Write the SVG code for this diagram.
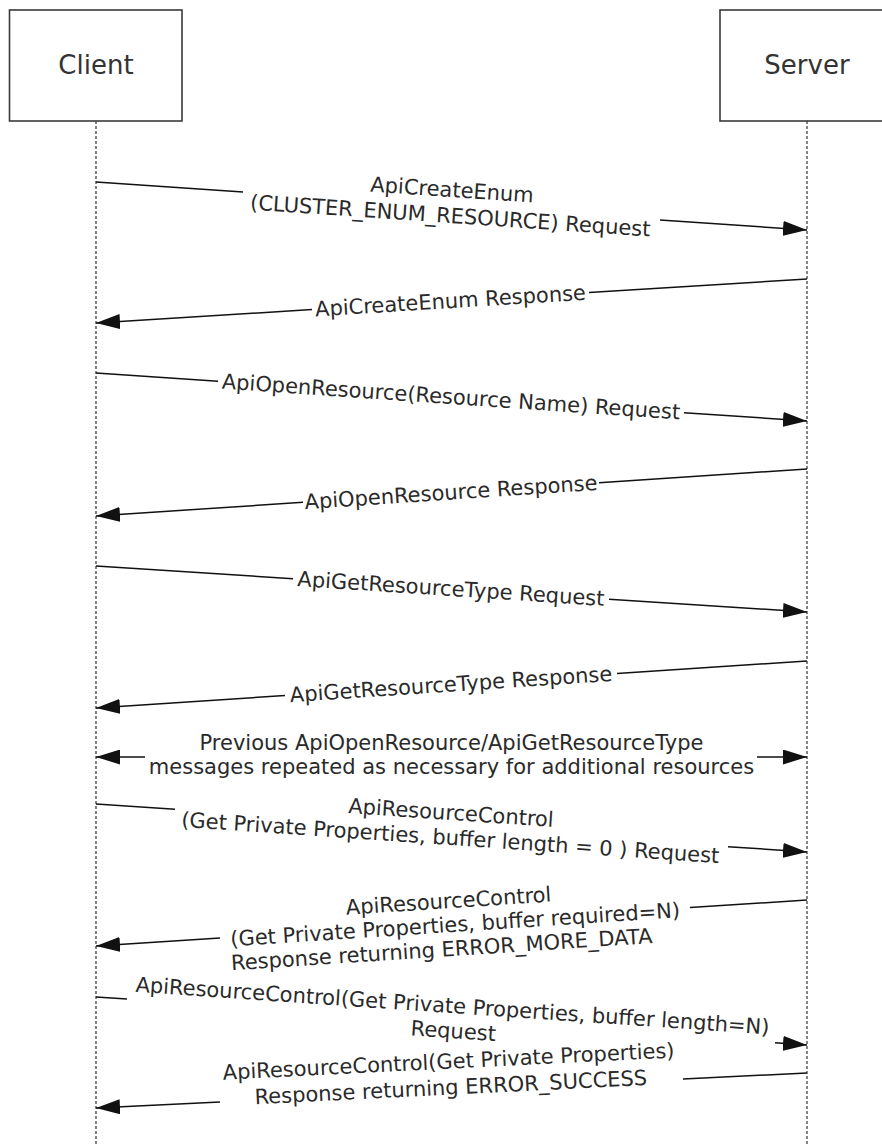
<svg xmlns="http://www.w3.org/2000/svg" width="882" height="1146" viewBox="0 0 882 1146">
<style>
.box{fill:#fff;stroke:#3a3a3a;stroke-width:1.6}
.actor{font-family:"DejaVu Sans",Verdana,sans-serif;font-size:26px;fill:#333;text-anchor:middle}
.life{stroke:#333;stroke-width:1.2;stroke-dasharray:3 2;fill:none}
.msg{stroke:#111;stroke-width:1.5;fill:none}
.lbl{font-family:"DejaVu Sans",Verdana,sans-serif;font-size:21px;fill:#2a2a2a;text-anchor:middle}
</style>
<defs>
<marker id="ah" markerUnits="userSpaceOnUse" markerWidth="25" markerHeight="15" refX="24" refY="7.5" orient="auto">
<path d="M0,0 L24,7.5 L0,15 z" fill="#111"/>
</marker>
</defs>
<rect width="882" height="1146" fill="#fff"/>
<g id="client">
<rect class="box" x="9.5" y="10" width="172.5" height="111"/>
<text class="actor" x="96" y="74">Client</text>
<line class="life" x1="96" y1="121" x2="96" y2="1146"/>
</g>
<g id="server">
<rect class="box" x="720" y="10" width="174" height="111"/>
<text class="actor" x="807" y="74">Server</text>
<line class="life" x1="807" y1="121" x2="807" y2="1146"/>
</g>
<g id="connectors">
<g id="m1">
<line class="msg" x1="96" y1="182" x2="243" y2="192"/>
<line class="msg" x1="660" y1="220" x2="807" y2="230" marker-end="url(#ah)"/>
<g transform="rotate(3.86 451.5 206)">
<text class="lbl" x="451" y="197">ApiCreateEnum</text>
<text class="lbl" x="451" y="223">(CLUSTER_ENUM_RESOURCE) Request</text>
</g>
</g>
<g id="m2">
<line class="msg" x1="807" y1="279" x2="589" y2="292.5"/>
<line class="msg" x1="312" y1="309.6" x2="96" y2="323" marker-end="url(#ah)"/>
<text class="lbl" x="450.5" y="308" transform="rotate(-3.54 451.5 301)">ApiCreateEnum Response</text>
</g>
<g id="m3">
<line class="msg" x1="96" y1="373" x2="218" y2="381.2"/>
<line class="msg" x1="684" y1="412.7" x2="807" y2="421" marker-end="url(#ah)"/>
<text class="lbl" x="451" y="404" transform="rotate(3.86 451.5 397)">ApiOpenResource(Resource Name) Request</text>
</g>
<g id="m4">
<line class="msg" x1="807" y1="469" x2="599" y2="482.7"/>
<line class="msg" x1="303" y1="502.3" x2="96" y2="516" marker-end="url(#ah)"/>
<text class="lbl" x="451" y="499.5" transform="rotate(-3.78 451.5 492.5)">ApiOpenResource Response</text>
</g>
<g id="m5">
<line class="msg" x1="96" y1="566" x2="293" y2="578.7"/>
<line class="msg" x1="609" y1="599.2" x2="807" y2="612" marker-end="url(#ah)"/>
<text class="lbl" x="451" y="596" transform="rotate(3.7 451.5 589)">ApiGetResourceType Request</text>
</g>
<g id="m6">
<line class="msg" x1="807" y1="661" x2="617" y2="673.6"/>
<line class="msg" x1="285" y1="695.5" x2="96" y2="708" marker-end="url(#ah)"/>
<text class="lbl" x="451" y="691.5" transform="rotate(-3.78 451.5 684.5)">ApiGetResourceType Response</text>
</g>
<g id="m7">
<line class="msg" x1="145" y1="757" x2="96" y2="757" marker-end="url(#ah)"/>
<line class="msg" x1="757" y1="757" x2="807" y2="757" marker-end="url(#ah)"/>
<text class="lbl" x="451.5" y="750">Previous ApiOpenResource/ApiGetResourceType</text>
<text class="lbl" x="451.5" y="774">messages repeated as necessary for additional resources</text>
</g>
<g id="m8">
<line class="msg" x1="96" y1="804" x2="175" y2="809.3"/>
<line class="msg" x1="728" y1="846.7" x2="807" y2="852" marker-end="url(#ah)"/>
<g transform="rotate(3.86 451.5 828)">
<text class="lbl" x="450" y="820">ApiResourceControl</text>
<text class="lbl" x="451" y="845">(Get Private Properties, buffer length = 0 ) Request</text>
</g>
</g>
<g id="m9">
<line class="msg" x1="807" y1="900" x2="690" y2="907.6"/>
<line class="msg" x1="220" y1="938" x2="96" y2="946" marker-end="url(#ah)"/>
<g transform="rotate(-3.7 451.5 923)">
<text class="lbl" x="450" y="908">ApiResourceControl</text>
<text class="lbl" x="455" y="932">(Get Private Properties, buffer required=N)</text>
<text class="lbl" x="440" y="956">Response returning ERROR_MORE_DATA</text>
</g>
</g>
<g id="m10">
<line class="msg" x1="96" y1="997" x2="127" y2="999.1"/>
<line class="msg" x1="775" y1="1042.8" x2="807" y2="1045" marker-end="url(#ah)"/>
<g transform="rotate(3.86 451.5 1021)">
<text class="lbl" x="451.5" y="1013">ApiResourceControl(Get Private Properties, buffer length=N)</text>
<text class="lbl" x="454" y="1038">Request</text>
</g>
</g>
<g id="m11">
<line class="msg" x1="807" y1="1073" x2="683" y2="1079.1"/>
<line class="msg" x1="220" y1="1101.9" x2="96" y2="1108" marker-end="url(#ah)"/>
<g transform="rotate(-2.82 451.5 1090.5)">
<text class="lbl" x="450" y="1068.5">ApiResourceControl(Get Private Properties)</text>
<text class="lbl" x="451" y="1094.5">Response returning ERROR_SUCCESS</text>
</g>
</g>
</g>
</svg>
